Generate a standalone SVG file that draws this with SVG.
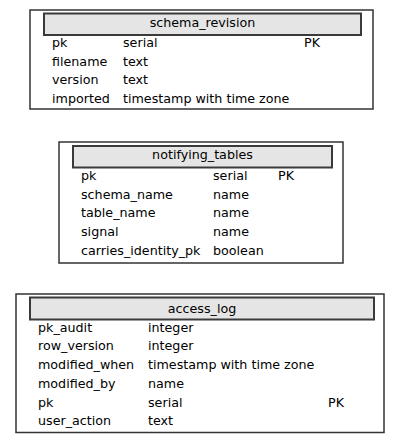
<svg xmlns="http://www.w3.org/2000/svg" width="403" height="443" viewBox="0 0 403 443">
<style>
.outer{fill:#fff;stroke:#333;stroke-width:1.5}
.hdr{fill:#e5e5e5;stroke:#3a3a3a;stroke-width:2}
text{font-family:"DejaVu Sans",sans-serif;font-size:12.7px;fill:#000}
.t{text-anchor:middle}
</style>
<rect width="403" height="443" fill="#fff"/>
<g id="schema_revision">
<rect class="outer" x="30" y="10" width="343" height="99"/>
<rect class="hdr" x="44" y="13.5" width="317" height="21.5"/>
<text class="t" x="202.5" y="26.5">schema_revision</text>
<text x="52" y="47">pk</text><text x="123" y="47">serial</text><text x="304" y="47">PK</text>
<text x="52" y="65.7">filename</text><text x="123" y="65.7">text</text>
<text x="52" y="84.3">version</text><text x="123" y="84.3">text</text>
<text x="52" y="103">imported</text><text x="123" y="103">timestamp with time zone</text>
</g>
<g id="notifying_tables">
<rect class="outer" x="59" y="142" width="284" height="121"/>
<rect class="hdr" x="73" y="146" width="259" height="21.5"/>
<text class="t" x="202.5" y="159">notifying_tables</text>
<text x="81" y="180">pk</text><text x="213" y="180">serial</text><text x="278" y="180">PK</text>
<text x="81" y="198.7">schema_name</text><text x="213" y="198.7">name</text>
<text x="81" y="217.4">table_name</text><text x="213" y="217.4">name</text>
<text x="81" y="236">signal</text><text x="213" y="236">name</text>
<text x="81" y="254.7">carries_identity_pk</text><text x="213" y="254.7">boolean</text>
</g>
<g id="access_log">
<rect class="outer" x="16" y="294" width="368" height="138.5"/>
<rect class="hdr" x="30" y="297.5" width="344" height="22"/>
<text class="t" x="202" y="312.7">access_log</text>
<text x="38" y="331.7">pk_audit</text><text x="148" y="331.7">integer</text>
<text x="38" y="350.4">row_version</text><text x="148" y="350.4">integer</text>
<text x="38" y="369.1">modified_when</text><text x="148" y="369.1">timestamp with time zone</text>
<text x="38" y="387.8">modified_by</text><text x="148" y="387.8">name</text>
<text x="38" y="406.5">pk</text><text x="148" y="406.5">serial</text><text x="328" y="406.5">PK</text>
<text x="38" y="425.2">user_action</text><text x="148" y="425.2">text</text>
</g>
<g id="connectors"></g>
</svg>
